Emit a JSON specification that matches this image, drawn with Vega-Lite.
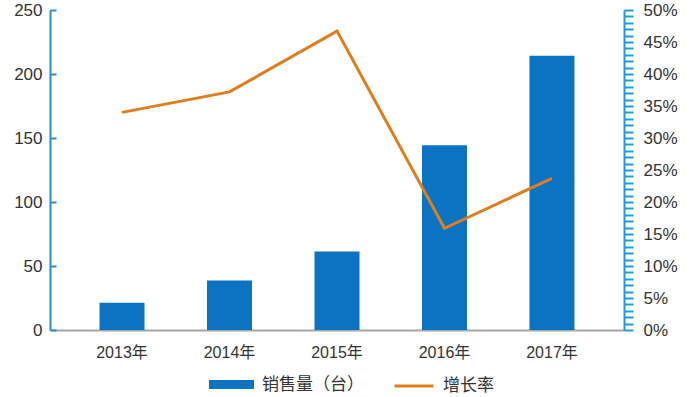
{
  "$schema": "https://vega.github.io/schema/vega-lite/v6.json",
  "width": 574,
  "height": 320,
  "autosize": {"type": "none"},
  "padding": {"left": 50, "top": 10, "right": 69, "bottom": 67},
  "background": "white",
  "config": {
    "font": "'Liberation Sans', 'Noto Sans CJK SC', sans-serif",
    "view": {"stroke": null},
    "axis": {"grid": false, "labelFontSize": 17, "labelColor": "#333333", "labelFlush": false, "labelOverlap": false, "title": null},
    "legend": {"padding": 0, "labelFontSize": 17, "labelColor": "#333333", "labelOffset": 8}
  },
  "data": {
    "values": [
      {"year": "2013年", "sales": 21.3, "rate": 0.340},
      {"year": "2014年", "sales": 38.7, "rate": 0.372},
      {"year": "2015年", "sales": 61.4, "rate": 0.467},
      {"year": "2016年", "sales": 144.4, "rate": 0.159},
      {"year": "2017年", "sales": 214.2, "rate": 0.237}
    ]
  },
  "encoding": {
    "x": {
      "field": "year",
      "type": "nominal",
      "sort": null,
      "scale": {"paddingInner": 0.58, "paddingOuter": 0.46},
      "axis": {"labelAngle": 0, "ticks": false, "domainColor": "#a6a6a6", "domainWidth": 2, "labelPadding": 14, "labelFontSize": 16}
    }
  },
  "layer": [
    {
      "mark": {"type": "bar", "width": 45},
      "encoding": {
        "y": {
          "field": "sales",
          "type": "quantitative",
          "scale": {"domain": [0, 250]},
          "axis": {"orient": "left", "values": [0, 50, 100, 150, 200, 250], "domainColor": "#2f8dc6", "domainWidth": 2, "tickColor": "#2f8dc6", "tickWidth": 2, "tickSize": -6, "labelPadding": 14}
        },
        "fill": {
          "datum": "销售量（台）",
          "scale": {"range": ["#0a73c2"]},
          "legend": {"title": null, "orient": "none", "legendX": 159, "legendY": 352, "symbolType": "M-1,-0.2H1V0.2H-1Z", "symbolSize": 2025, "symbolStrokeWidth": 0, "symbolOpacity": 1}
        }
      }
    },
    {
      "mark": {"type": "line", "strokeWidth": 3},
      "encoding": {
        "y": {
          "field": "rate",
          "type": "quantitative",
          "scale": {"domain": [0, 0.5]},
          "axis": {
            "orient": "right",
            "tickCount": 50,
            "domainColor": "#1e9ad6",
            "domainWidth": 2,
            "tickColor": "#1e9ad6",
            "tickWidth": 2,
            "tickSize": 9,
            "labelPadding": 10,
            "labelExpr": "round(datum.value*100) % 5 == 0 ? format(datum.value, '.0%') : ''",
            "encode": {
              "ticks": {
                "update": {
                  "x": {"signal": "round(datum.value*100) % 5 == 0 ? -6 : -5"},
                  "x2": {"signal": "round(datum.value*100) % 5 == 0 ? 9 : 2"}
                }
              }
            }
          }
        },
        "stroke": {
          "datum": "增长率",
          "scale": {"range": ["#de7f1f"]},
          "legend": {"title": null, "orient": "none", "legendX": 343, "legendY": 355, "symbolType": "stroke", "symbolSize": 1521, "symbolStrokeWidth": 3}
        }
      }
    }
  ],
  "resolve": {"scale": {"y": "independent", "fill": "independent", "stroke": "independent"}}
}
